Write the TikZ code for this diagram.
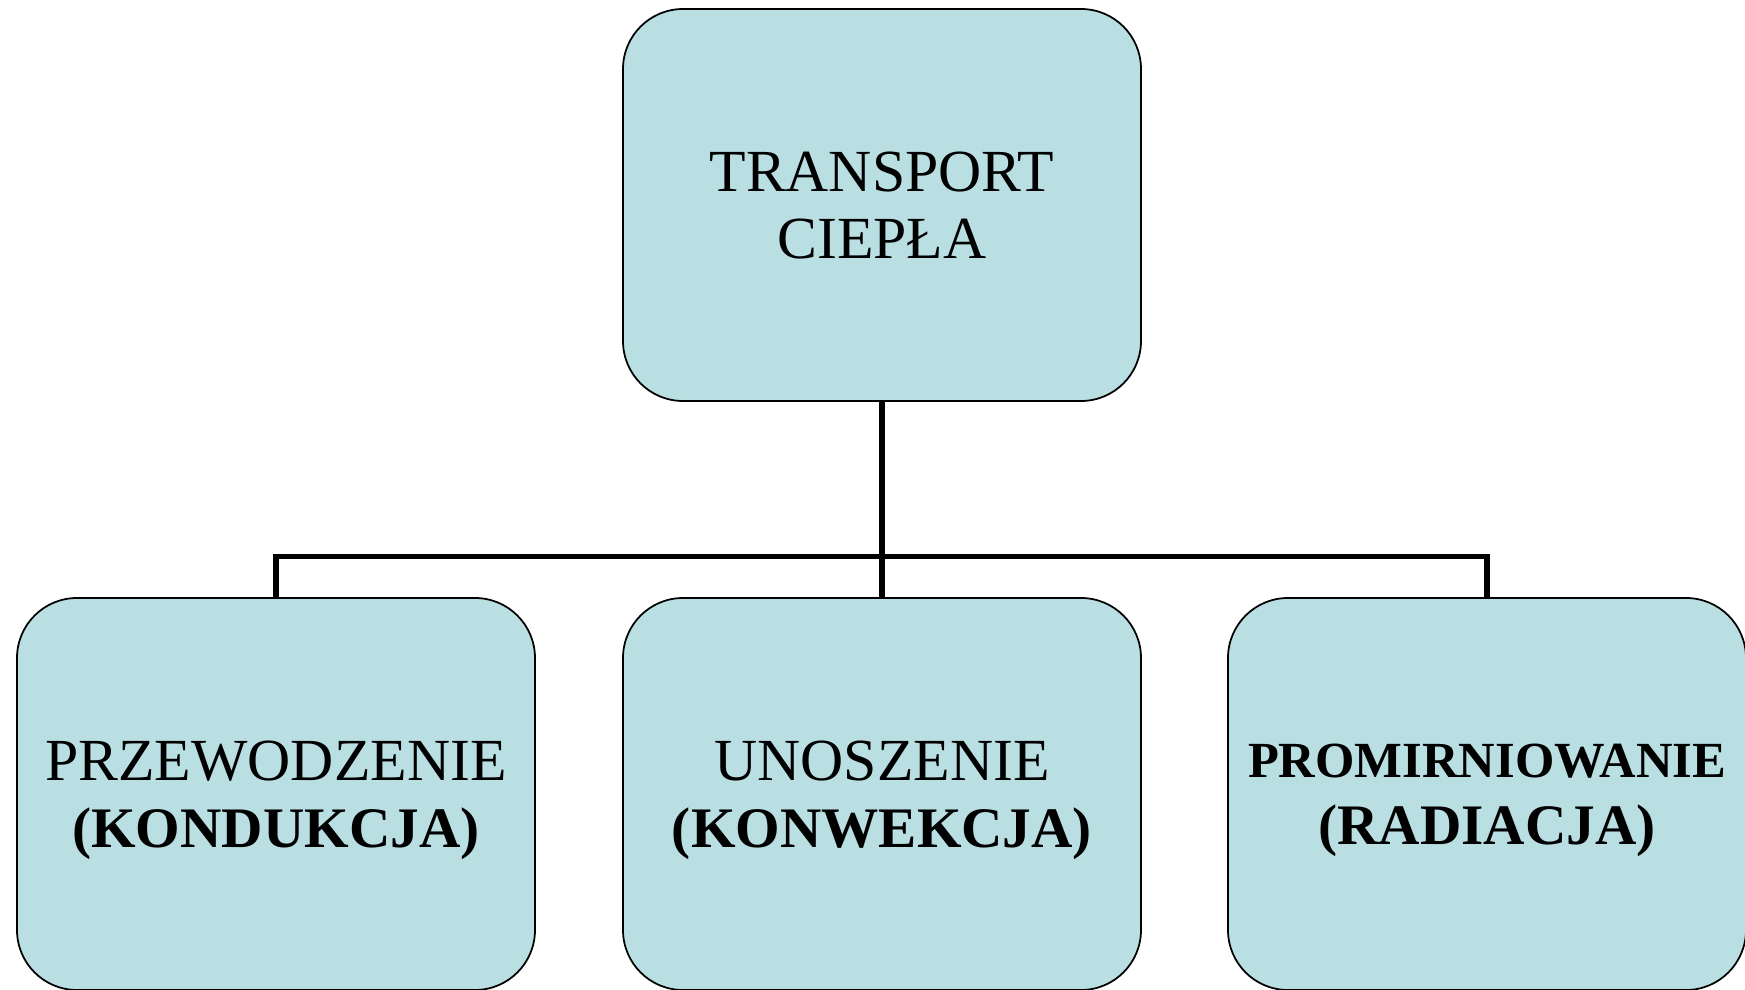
\documentclass[tikz,border=0pt]{standalone}
\usepackage{fontspec}
\setmainfont{Liberation Serif}
\usepackage{xcolor}
\usepackage{tikz}
\definecolor{colbox}{RGB}{186,223,227}
\newcommand{\boldline}[2][16.3]{{\fontsize{#1}{19}\selectfont\bfseries #2}}
\tikzset{
  box/.style ={draw,line width=0.5pt,fill=colbox,rounded corners=0.6cm,
               minimum width=5.18cm,minimum height=3.92cm,inner sep=0pt,
               align=center,text depth=0pt,font=\fontsize{17}{19}\selectfont},
  link/.style={line width=1.5pt},
}

\begin{document}
\begin{tikzpicture}
  \useasboundingbox (0,0) rectangle (17.45,-9.9);
  \node[box] (top) at (8.82,-2.05){TRANSPORT\\CIEPŁA};
  \node[box] (lft) at (2.76,-7.94){PRZEWODZENIE\\\boldline{(KONDUKCJA)}};
  \node[box] (mid) at (8.82,-7.94){UNOSZENIE\\\boldline{(KONWEKCJA)}};
  \node[box] (rgt) at (14.87,-7.94){\boldline[14.4]{PROMIRNIOWANIE}\\\boldline{(RADIACJA)}};
  \coordinate (j) at (8.82,-5.565);
  \draw[link] (top.south) -- (mid.north);
  \draw[link] (lft.north) -- (lft.north |- j) -- (rgt.north |- j) -- (rgt.north);
\end{tikzpicture}
\end{document}
